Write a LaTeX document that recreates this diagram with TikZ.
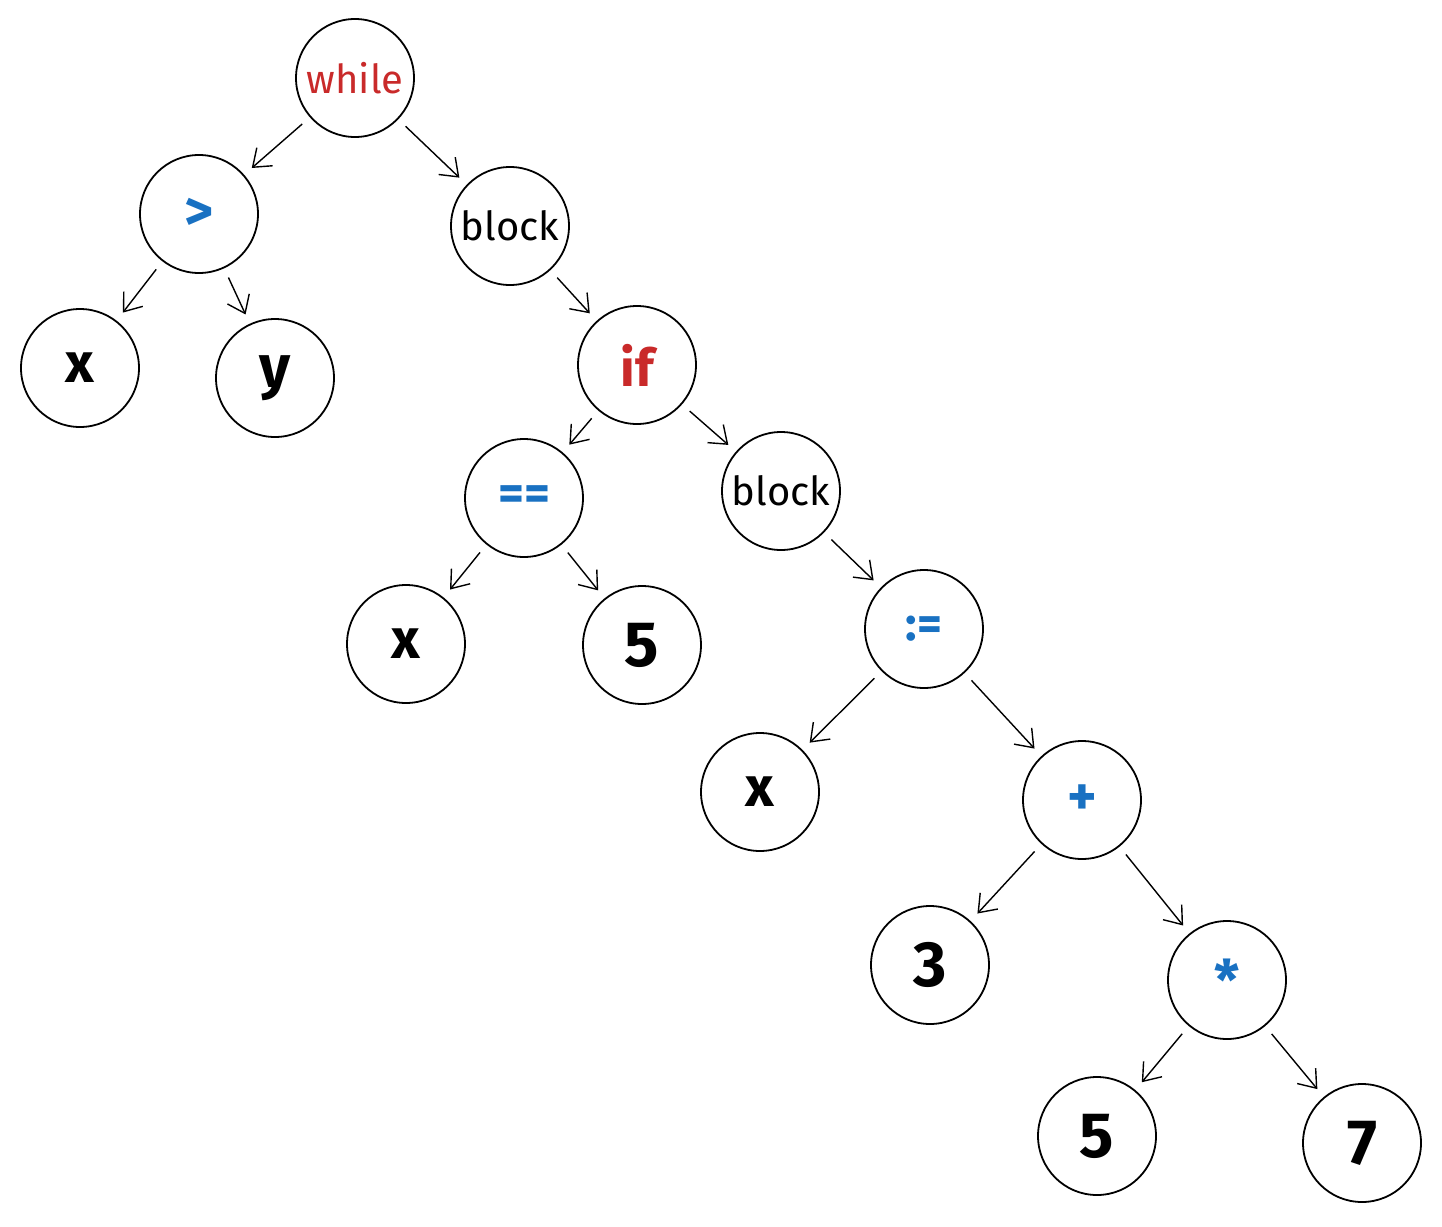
\documentclass[tikz,border=0pt]{standalone}
\usepackage{fontspec}
\setmainfont{Fira Sans}
\usetikzlibrary{arrows.meta}
\definecolor{exred}{HTML}{C92A2A}
\definecolor{exblue}{HTML}{1971C2}
\tikzset{
  tnode/.style={circle, draw=black, line width=1.8pt, minimum size=118pt, inner sep=0pt, outer sep=0pt, font=\fontsize{40}{44}\selectfont},
  bigtxt/.style={font=\fontsize{64}{70}\bfseries},
  edge/.style={line width=1.4pt, shorten <=11pt, shorten >=11pt, -{Straight Barb[length=16pt,width=24pt,line width=1.4pt]}},
}
\begin{document}
\begin{tikzpicture}[x=1pt,y=-1pt]
\useasboundingbox (0,0) rectangle (1442,1226);
\node[tnode, text=exred] (while) at (355,78) {while};
\node[tnode, text=exblue, font=\fontsize{56}{60}\bfseries] (gt) at (199,214) {>};
\node[tnode] (block1) at (510,226) {block};
\node[tnode, font=\fontsize{56}{60}\bfseries] (x1) at (80,368) {x};
\node[tnode, font=\fontsize{60}{64}\bfseries] (y) at (275,378) {y};
\node[tnode, text=exred, font=\fontsize{52}{56}\bfseries] (if) at (637,365) {if};
\node[tnode, text=exblue, font=\fontsize{50}{56}\bfseries] (eq) at (524,498) {==};
\node[tnode] (block2) at (781,491) {block};
\node[tnode, font=\fontsize{56}{60}\bfseries] (x2) at (406,644) {x};
\node[tnode, bigtxt] (five1) at (642,645) {5};
\node[tnode, text=exblue, font=\fontsize{48}{52}\bfseries] (assign) at (924,629) {:=};
\node[tnode, font=\fontsize{56}{60}\bfseries] (x3) at (760,792) {x};
\node[tnode, text=exblue, font=\fontsize{56}{60}\bfseries] (plus) at (1082,800) {+};
\node[tnode, bigtxt] (three) at (930,965) {3};
\node[tnode, text=exblue, font=\fontsize{56}{60}\bfseries] (times) at (1227,980) {*};
\node[tnode, bigtxt] (five2) at (1097,1136) {5};
\node[tnode, bigtxt] (seven) at (1362,1143) {7};
\draw[edge] (while) -- (gt);
\draw[edge] (while) -- (block1);
\draw[edge] (gt) -- (x1);
\draw[edge] (gt) -- (y);
\draw[edge] (block1) -- (if);
\draw[edge] (if) -- (eq);
\draw[edge] (if) -- (block2);
\draw[edge] (eq) -- (x2);
\draw[edge] (eq) -- (five1);
\draw[edge] (block2) -- (assign);
\draw[edge] (assign) -- (x3);
\draw[edge] (assign) -- (plus);
\draw[edge] (plus) -- (three);
\draw[edge] (plus) -- (times);
\draw[edge] (times) -- (five2);
\draw[edge] (times) -- (seven);
\end{tikzpicture}
\end{document}
